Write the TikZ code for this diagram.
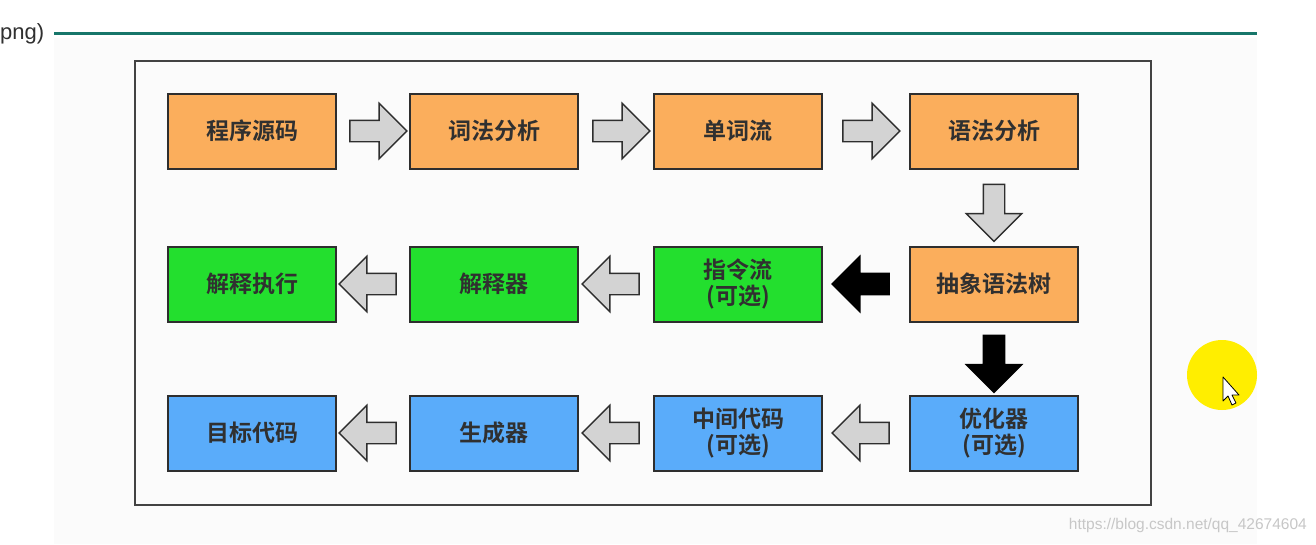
\documentclass[tikz,border=0pt]{standalone}
\usepackage{fontspec}
\newfontfamily\cjk{Noto Sans CJK SC Bold}
\setsansfont{Liberation Sans}
\usepackage{tikz}
\usetikzlibrary{shapes.arrows}
\usepackage{xcolor}
\definecolor{boxorange}{HTML}{FBAE5C}
\definecolor{boxgreen}{HTML}{23DF2E}
\definecolor{boxblue}{HTML}{5AACFA}
\definecolor{flowgray}{HTML}{D3D3D3}
\definecolor{edgegray}{HTML}{2E2E2E}
\definecolor{labelgray}{HTML}{303030}
\definecolor{rulegreen}{HTML}{17766A}
\definecolor{cursoryellow}{HTML}{FFEE00}

\begin{document}
\begin{tikzpicture}[x=1pt,y=-1pt,
		stage/.style={draw=edgegray,line width=2pt,minimum width=168pt,minimum height=75pt,inner sep=0pt,align=center,text=labelgray,font=\cjk\fontsize{23}{26}\selectfont},
		flow/.style={single arrow,draw=edgegray,line width=1.4pt,fill=flowgray,minimum height=57pt,minimum width=54pt,inner xsep=0pt,inner ysep=10pt,single arrow head extend=17pt,single arrow tip angle=90,sloped,allow upside down},
		bigflow/.style={flow,fill=black,draw=black}]
		\useasboundingbox (0,0) rectangle (1316,544);
		\fill[white] (0,0) rectangle (1316,544);
		\fill[black!1.5] (54,38) rectangle (1257,544);
		\draw[rulegreen,line width=3pt] (54,33) -- (1257,33);
		\node[anchor=west,inner sep=0pt,text=labelgray,font=\sffamily\fontsize{22}{26}\selectfont] (png) at (0,34) {png)};
		
		\draw[edgegray!90,line width=2.5pt] (135,61) rectangle (1151,505);
		
		\node[stage,fill=boxorange] (src) at (252,131) {程序源码};
		\node[stage,fill=boxorange] (lex) at (494,131) {词法分析};
		\node[stage,fill=boxorange] (tok) at (738,131) {单词流};
		\node[stage,fill=boxorange] (parse) at (994,131) {语法分析};
		
		\node[stage,fill=boxorange] (ast) at (994,284) {抽象语法树};
		\node[stage,fill=boxgreen] (ins) at (738,284) {指令流\\(可选)};
		\node[stage,fill=boxgreen] (interp) at (494,284) {解释器};
		\node[stage,fill=boxgreen] (exec) at (252,284) {解释执行};
		
		\node[stage,fill=boxblue] (opt) at (994,433) {优化器\\(可选)};
		\node[stage,fill=boxblue] (ir) at (738,433) {中间代码\\(可选)};
		\node[stage,fill=boxblue] (gen) at (494,433) {生成器};
		\node[stage,fill=boxblue] (target) at (252,433) {目标代码};
		
		\path
			(src) -- (lex) node[midway,flow] {}
			(lex) -- (tok) node[midway,flow] {}
			(tok) -- (parse) node[midway,flow] {}
			(parse) -- (ast) node[midway,flow] {}
			(ins) -- (interp) node[midway,flow] {}
			(interp) -- (exec) node[midway,flow] {}
			(opt) -- (ir) node[midway,flow] {}
			(ir) -- (gen) node[midway,flow] {}
			(gen) -- (target) node[midway,flow] {};
		\path
			(ast) -- (ins) node[midway,bigflow] {}
			(ast) -- (opt) node[midway,bigflow] {};
		
		\fill[cursoryellow] (1222,375) circle (35);
		\draw[black,fill=white,line width=0.8pt,line join=round]
			(1223,377) -- (1223,401) -- (1228,396) -- (1232,405) -- (1236,403) -- (1232,395) -- (1239,395) -- cycle;
		
		\node[anchor=east,inner sep=0pt,text=black!22,font=\sffamily\fontsize{15.5}{18}\selectfont] (mark) at (1307,525) {https://blog.csdn.net/qq\_42674604};
	\end{tikzpicture}
\end{document}
